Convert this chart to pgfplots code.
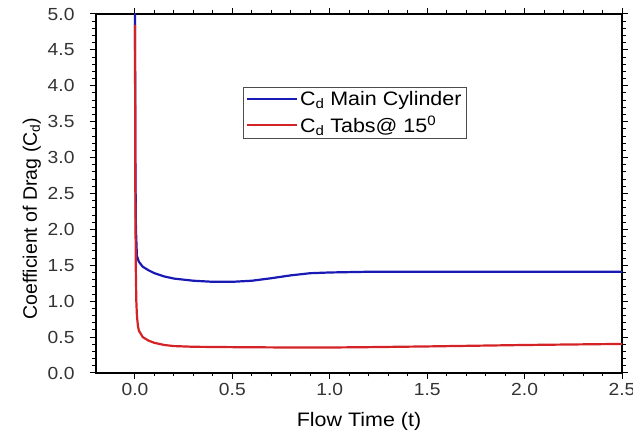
\documentclass[border=0pt]{standalone}
\usepackage{pgfplots}
\pgfplotsset{compat=1.18}
\usepackage{fontspec}
\setmainfont[FakeStretch=1.1]{Liberation Sans}
\newfontfamily\plainfont{Liberation Sans}
\definecolor{cblue}{RGB}{25,25,180}
\definecolor{cred}{RGB}{212,35,38}
\begin{document}
\begin{tikzpicture}
\begin{axis}[
  scale only axis,
  width=526pt, height=359pt,
  xmin=-0.2, xmax=2.5, ymin=0, ymax=5,
  xtick={0,0.5,1,1.5,2,2.5},
  ytick={0,0.5,...,5},
  minor x tick num=4, minor y tick num=4,
  /pgf/number format/fixed,
  /pgf/number format/fixed zerofill,
  /pgf/number format/precision=1,
  /pgf/number format/assume math mode=true,
  yticklabel style={xshift=-12pt},
  xticklabel style={yshift=-1pt},
  tick label style={font=\fontsize{17.5}{19}\selectfont, color=black!80},
  tick align=outside,
  major tick length=6pt, minor tick length=3.5pt,
  every tick/.style={black, line width=1pt},
  axis line style={line width=1.2pt},
  xlabel={Flow Time (t)},
  ylabel={Coefficient of Drag (C\textsubscript{d})},
  xlabel style={at={(axis description cs:0.5,-0.150)}, anchor=base, font=\fontsize{19.5}{21}\selectfont},
  ylabel style={at={(axis description cs:-0.122,0.43)}, anchor=center, font=\plainfont\fontsize{19.5}{21}\selectfont},
  legend style={at={(0.279,0.797)}, anchor=north west, font=\fontsize{19.5}{21}\selectfont,
    draw=black!70, line width=0.6pt, inner xsep=3pt, inner ysep=2pt, row sep=5pt},
  legend cell align=left,
  legend image code/.code={\draw[#1, line width=2pt] (0pt,0pt) -- (50pt,0pt);},
  every axis plot/.append style={line width=2.2pt},
  clip=true,
]
\addplot[cblue] coordinates {
(0,5.3) (0.002,3.0) (0.005,2.0) (0.01,1.63) (0.02,1.55) (0.04,1.48) (0.07,1.43)
(0.1,1.39) (0.15,1.345) (0.2,1.315) (0.3,1.285) (0.4,1.27) (0.5,1.27) (0.6,1.285)
(0.7,1.32) (0.8,1.36) (0.9,1.39) (1.0,1.40) (1.2,1.41) (1.5,1.41) (2.0,1.41) (2.5,1.41)
};
\addlegendentry{C\textsubscript{d} Main Cylinder}
\addplot[cred] coordinates {
(0,4.85) (0.002,2.5) (0.004,1.5) (0.007,1.0) (0.01,0.8) (0.015,0.66) (0.02,0.59)
(0.04,0.5) (0.07,0.45) (0.1,0.42) (0.15,0.39) (0.2,0.375) (0.3,0.365) (0.5,0.36)
(0.8,0.355) (1.0,0.355) (1.2,0.36) (1.5,0.37) (2.0,0.39) (2.5,0.405)
};
\addlegendentry{C\textsubscript{d} Tabs@ 15\textsuperscript{0}}
\end{axis}
\pgfresetboundingbox
\path ([shift={(-96pt,-61pt)}]current axis.south west) rectangle ([shift={(11pt,14pt)}]current axis.north east);
\end{tikzpicture}
\end{document}
